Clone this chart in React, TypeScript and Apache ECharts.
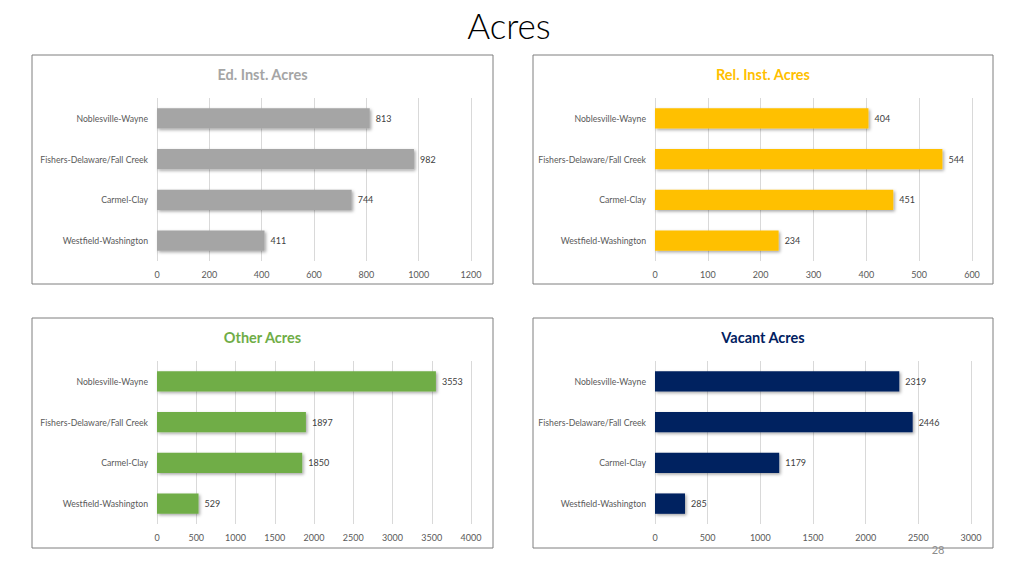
import React, { useEffect, useRef } from "react";
import * as echarts from "echarts";

const categories = ["Noblesville-Wayne", "Fishers-Delaware/Fall Creek", "Carmel-Clay", "Westfield-Washington"];
const edInstValues = [813, 982, 744, 411];
const relInstValues = [404, 544, 451, 234];
const otherValues = [3553, 1897, 1850, 529];
const vacantValues = [2319, 2446, 1179, 285];
const chartTitles = ["Ed. Inst. Acres", "Rel. Inst. Acres", "Other Acres", "Vacant Acres"];
const axisMax = [1200, 600, 4000, 3000];
const axisInterval = [200, 100, 500, 500];
const colors = ["#A5A5A5", "#FFC000", "#70AD47", "#002060"];
const pageTitle = "Acres";
const pageNumber = "28";

const FONT = "Lato, 'Open Sans', sans-serif";

const boxes = [
  { x: 32, y: 55, w: 461, h: 229 },
  { x: 533, y: 55, w: 460, h: 229 },
  { x: 32, y: 318, w: 461, h: 230 },
  { x: 533, y: 318, w: 460, h: 230 },
];
const grids = [
  { left: 157, top: 98, width: 314, height: 163 },
  { left: 655, top: 98, width: 317, height: 163 },
  { left: 157, top: 361, width: 314, height: 163 },
  { left: 655, top: 361, width: 316, height: 163 },
];

export default function App() {
  const ref = useRef<HTMLDivElement>(null);
  useEffect(() => {
    if (!ref.current) return;
    const chart = echarts.init(ref.current, undefined, { renderer: "svg" });
    const seriesData = [edInstValues, relInstValues, otherValues, vacantValues];
    const graphic: any[] = [];
    boxes.forEach((b, i) => {
      graphic.push({
        type: "rect",
        shape: { x: b.x, y: b.y, width: b.w, height: b.h },
        style: { fill: "#fff", stroke: "#7f7f7f", lineWidth: 1 },
        z: -10,
      });
      graphic.push({
        type: "text",
        x: b.x + b.w / 2,
        y: b.y + 19,
        style: {
          text: chartTitles[i],
          fill: i === 0 ? "#A5A5A5" : colors[i],
          font: `bold 14.5px ${FONT}`,
          textAlign: "center",
          textVerticalAlign: "middle",
        },
      });
    });
    graphic.push({
      type: "text",
      x: 509,
      y: 25,
      style: {
        text: pageTitle,
        fill: "#000",
        font: `300 35px ${FONT}`,
        textAlign: "center",
        textVerticalAlign: "middle",
      },
    });
    graphic.push({
      type: "text",
      x: 938,
      y: 549,
      style: {
        text: pageNumber,
        fill: "#8c8c8c",
        font: `11px ${FONT}`,
        textAlign: "center",
        textVerticalAlign: "middle",
      },
    });

    chart.setOption({
      animation: false,
      backgroundColor: "#fff",
      graphic,
      grid: grids.map((g) => ({ ...g, containLabel: false })),
      xAxis: grids.map((_, i) => ({
        type: "value",
        gridIndex: i,
        min: 0,
        max: axisMax[i],
        interval: axisInterval[i],
        axisLine: { show: false },
        axisTick: { show: false },
        axisLabel: {
          color: "#595959",
          fontSize: 9,
          fontFamily: FONT,
          margin: 9,
          formatter: (v: number) => String(v),
        },
        splitLine: { show: true, lineStyle: { color: "#d9d9d9", width: 1 } },
      })),
      yAxis: grids.map((_, i) => ({
        type: "category",
        gridIndex: i,
        inverse: true,
        data: categories,
        axisLine: { show: false },
        axisTick: { show: false },
        axisLabel: { color: "#595959", fontSize: 8.7, fontFamily: FONT, margin: 9 },
      })),
      series: seriesData.map((d, i) => ({
        type: "bar",
        xAxisIndex: i,
        yAxisIndex: i,
        data: d,
        barCategoryGap: "50%",
        itemStyle: {
          color: colors[i],
          shadowBlur: 3,
          shadowOffsetX: 1.5,
          shadowOffsetY: 1.5,
          shadowColor: "rgba(0,0,0,0.35)",
        },
        label: {
          show: true,
          position: "right",
          distance: 6,
          color: "#404040",
          fontSize: 9,
          fontFamily: FONT,
        },
      })),
    });
    return () => chart.dispose();
  }, []);
  return (
    <div
      ref={ref}
      style={{ position: "fixed", left: 0, top: 0, width: 1024, height: 576, background: "#fff" }}
    />
  );
}
